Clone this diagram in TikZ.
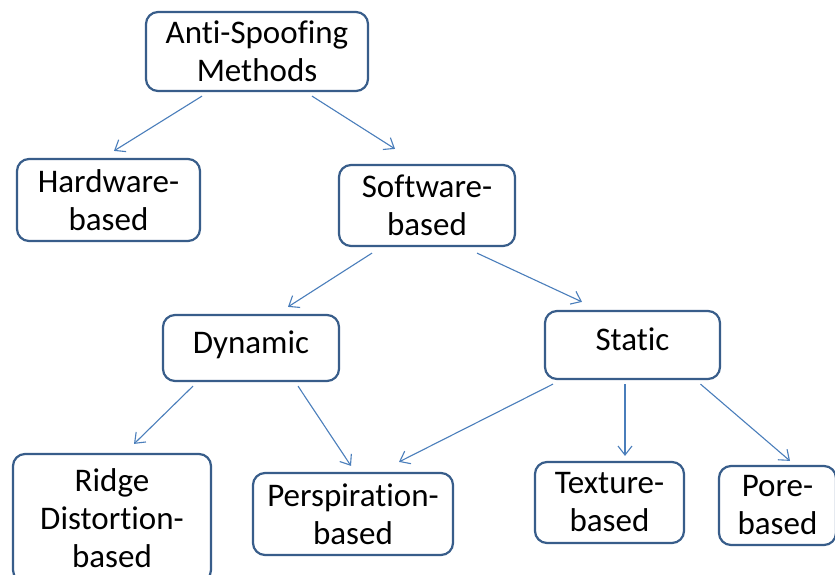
\documentclass[tikz,border=0pt]{standalone}
\usepackage{fontspec}
\setmainfont{Carlito}[Ligatures=NoCommon]
\usetikzlibrary{arrows.meta}
\definecolor{boxline}{RGB}{56,93,138}
\definecolor{arrline}{RGB}{74,126,187}
\tikzset{
  box/.style={draw=boxline, line width=2.2pt, rounded corners=12pt, fill=white,
    align=center, inner sep=0pt, font=\fontsize{33}{38}\selectfont},
  oneline/.style={text height=20pt, text depth=10pt},
  arr/.style={draw=arrline, line width=1.1pt,
    -{Straight Barb[length=9pt,width=14pt,line width=1.1pt]}}
}
\begin{document}
\begin{tikzpicture}[x=1pt,y=-1pt]
\useasboundingbox[fill=white] (0,0) rectangle (835,575);
\node[box, minimum width=222pt, minimum height=79pt] (anti) at (257,51.5) {Anti-Spoof\kern0pt ing\\Methods};
\node[box, minimum width=183pt, minimum height=82pt] (hw) at (108.5,200) {Hardware-\\based};
\node[box, minimum width=176pt, minimum height=81pt] (sw) at (427,205.5) {Software-\\based};
\node[box, oneline, minimum width=176pt, minimum height=66pt] (dyn) at (251,348) {Dynamic};
\node[box, oneline, minimum width=175pt, minimum height=68pt] (sta) at (632.5,345) {Static};
\node[box, minimum width=198pt, minimum height=128pt] (ridge) at (112,518) {Ridge\\Distortion-\\based};
\node[box, minimum width=200pt, minimum height=82pt] (persp) at (353,514) {Perspiration-\\based};
\node[box, minimum width=149pt, minimum height=81pt] (tex) at (609.5,502.5) {Texture-\\based};
\node[box, minimum width=117pt, minimum height=79pt] (pore) at (777.5,505.5) {Pore-\\based};

\draw[arr] ([shift={(-55,4)}]anti.south) -- ([shift={(5.5,-7)}]hw.north);
\draw[arr] ([shift={(55,4)}]anti.south) -- ([shift={(-32,-15)}]sw.north);
\draw[arr] ([shift={(-55,6)}]sw.south) -- ([shift={(37,-7)}]dyn.north);
\draw[arr] ([shift={(50,6)}]sw.south) -- ([shift={(-50.5,-8)}]sta.north);
\draw[arr] ([shift={(-58,4)}]dyn.south) -- ([shift={(22,-9)}]ridge.north);
\draw[arr] ([shift={(47,4)}]dyn.south) -- ([shift={(-2,-6)}]persp.north);
\draw[arr] ([shift={(-79.5,4)}]sta.south) -- ([shift={(46,-10)}]persp.north);
\draw[arr] ([shift={(-7.5,4)}]sta.south) -- ([shift={(15.5,-5)}]tex.north);
\draw[arr] ([shift={(68,4)}]sta.south) -- ([shift={(12.5,-4)}]pore.north);
\end{tikzpicture}
\end{document}
